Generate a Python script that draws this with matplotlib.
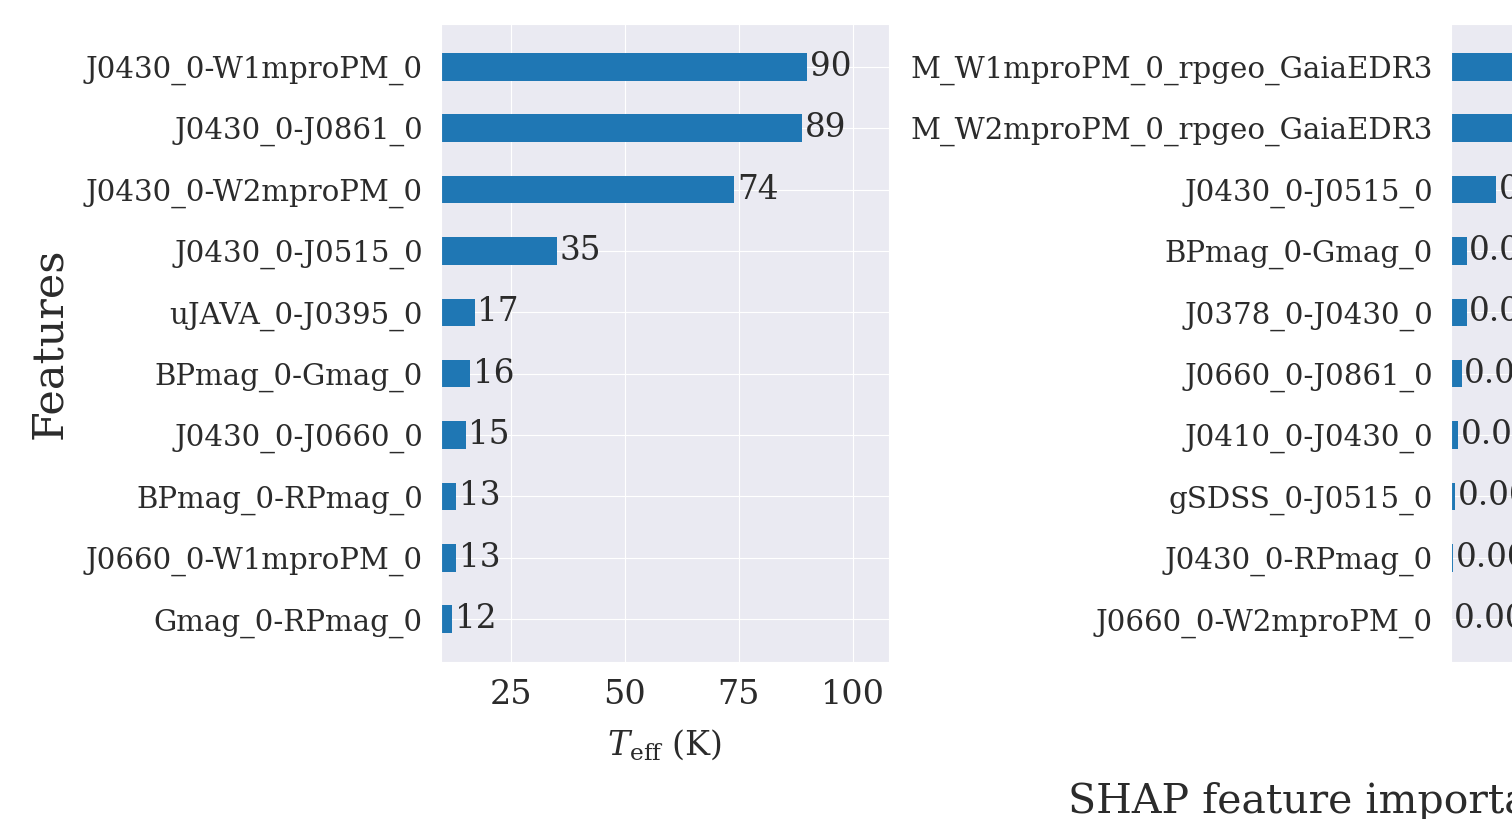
import matplotlib
matplotlib.use("Agg")
import matplotlib.pyplot as plt
import seaborn as sns

sns.set_style("darkgrid")
plt.rcParams["font.family"] = ["DejaVu Serif"]
plt.rcParams["mathtext.fontset"] = "dejavuserif"

# Top-ranked colour features for Teff (top to bottom)
teff_features = [
    "J0430_0-W1mproPM_0", "J0430_0-J0861_0", "J0430_0-W2mproPM_0",
    "J0430_0-J0515_0", "uJAVA_0-J0395_0", "BPmag_0-Gmag_0",
    "J0430_0-J0660_0", "BPmag_0-RPmag_0", "J0660_0-W1mproPM_0",
    "Gmag_0-RPmag_0",
]
teff_values = [90, 89, 74, 35, 17, 16, 15, 13, 13, 12]

# Top-ranked features for the second target (mean |SHAP|)
shap_features = [
    "M_W1mproPM_0_rpgeo_GaiaEDR3", "M_W2mproPM_0_rpgeo_GaiaEDR3",
    "J0430_0-J0515_0", "BPmag_0-Gmag_0", "J0378_0-J0430_0",
    "J0660_0-J0861_0", "J0410_0-J0430_0", "gSDSS_0-J0515_0",
    "J0430_0-RPmag_0", "J0660_0-W2mproPM_0",
]
shap_values = [0.29, 0.27, 0.035, 0.0124, 0.0124, 0.0085, 0.0055, 0.0036, 0.0016, 0.0004]

BLUE = "#1f77b4"
TEXT = "#2b2b2b"
W, H = 1512, 819
fig = plt.figure(figsize=(W / 100, H / 100), dpi=100)


def px_axes(left, top, right, bottom):
    return fig.add_axes([left / W, 1 - bottom / H, (right - left) / W, (bottom - top) / H])


def draw_panel(ax, names, values, fmt):
    bars = ax.barh(range(len(values)), values, height=0.45, color=BLUE, linewidth=0)
    ax.set_yticks(range(len(names)))
    ax.set_yticklabels(names)
    ax.invert_yaxis()
    ax.set_xlim(min(values) * 0.8, max(values) * 1.2)
    ax.bar_label(bars, labels=[fmt.format(v) for v in values], padding=2,
                 fontsize=23.5, color=TEXT)
    ax.tick_params(axis="y", length=0, pad=13, labelsize=21.1, labelcolor=TEXT)
    ax.tick_params(axis="x", length=0, pad=12, labelsize=24, labelcolor=TEXT)


ax1 = px_axes(441, 24, 889, 662)
draw_panel(ax1, teff_features, teff_values, "{:.0f}")
ax1.set_xticks([25, 50, 75, 100])
ax1.set_xlabel(r"$T_{\rm eff}$ (K)", fontsize=24, labelpad=12, color=TEXT)
ax1.set_ylabel("Features", fontsize=31, labelpad=11, color=TEXT)

ax2 = px_axes(1451, 24, 1899, 662)
draw_panel(ax2, shap_features, shap_values, "{:.2f}")
ax2.set_xticks([0.1, 0.2, 0.3])

fig.text(1068 / W, 6 / H, "SHAP feature importance", fontsize=29.5,
         ha="left", va="baseline", color=TEXT)

fig.savefig("out.png", dpi=100)
